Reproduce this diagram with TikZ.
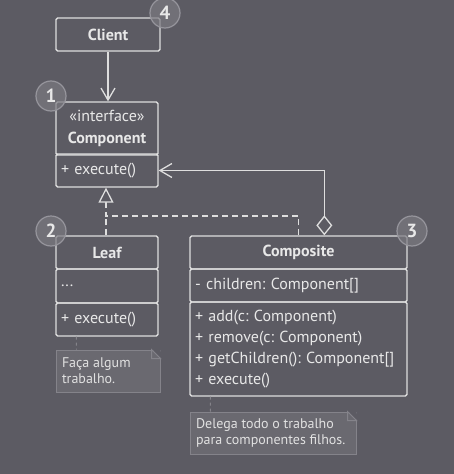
\documentclass[tikz,border=0pt]{standalone}
\usepackage{fontspec}
\setmainfont{PT Sans}
\frenchspacing
\usetikzlibrary{arrows.meta,calc}
\definecolor{bgc}{RGB}{92,91,99}
\definecolor{lnc}{RGB}{222,222,222}
\definecolor{txc}{RGB}{232,232,232}
\definecolor{notefill}{RGB}{106,105,112}
\definecolor{notedraw}{RGB}{132,131,138}
\definecolor{notetxt}{RGB}{225,225,225}
\definecolor{numfill}{RGB}{122,121,128}
\definecolor{numdraw}{RGB}{150,149,156}
\tikzset{
  cls/.style={draw=lnc, line width=1.3pt, rounded corners=1.6pt, text=txc,
              inner sep=0pt, minimum width=102pt, align=center,
              font=\fontsize{16}{20}\selectfont},
  hd/.style={cls, font=\fontsize{16}{20}\selectfont\bfseries},
  prt/.style={cls, align=left, inner xsep=5pt, text width=92pt},
  wide/.style={minimum width=217pt, text width=207pt},
  note/.style={fill=notefill, draw=notedraw, line width=1pt, text=notetxt,
               align=flush left, inner xsep=6pt, inner ysep=0pt,
               font=\fontsize{14}{16}\selectfont},
  num/.style={circle, minimum size=30pt, inner sep=0pt, fill=numfill,
              fill opacity=0.7, text opacity=1, draw=numdraw, line width=1.2pt,
              text=txc, font=\fontsize{19}{19}\selectfont\bfseries},
  assoc/.style={draw=lnc, line width=1.3pt, -{Straight Barb[length=12pt,width=14pt]}},
  real/.style={draw=lnc, line width=1.3pt, dash pattern=on 6pt off 4pt},
  agg/.style={draw=lnc, line width=1.3pt,
              {Diamond[open,length=20pt,width=16pt,fill=bgc]}-{Straight Barb[length=12pt,width=14pt]}},
  noteln/.style={draw=notedraw, line width=1pt, dash pattern=on 3pt off 3pt},
}

\begin{document}
\begin{tikzpicture}[x=1pt,y=-1pt]
  \fill[bgc] (0,0) rectangle (454,474);
  \useasboundingbox (0,0) rectangle (454,474);

  % classes
  \node[hd,minimum width=104pt,minimum height=33pt] (client) at (108,34.5) {Client};
  \node[cls,minimum height=53pt,font=\fontsize{16}{22}\selectfont] (compH) at (107,128.5)
    {«interface»\\\textbf{Component}};
  \node[prt,minimum height=33pt] (compO) at (107,170.5) {+ execute()};

  \node[hd,minimum height=33pt] (leafT) at (107,252.5) {Leaf};
  \node[prt,minimum height=34pt] (leafA) at (107,286) {...};
  \node[prt,minimum height=33pt] (leafO) at (107,319.5) {+ execute()};

  \node[hd,minimum width=217pt,minimum height=33pt] (cmpT) at (298.5,252.5) {Composite};
  \node[prt,wide,minimum height=33pt] (cmpA) at (298.5,285.5) {- children: Component[]};
  \node[prt,wide,minimum height=94pt,font=\fontsize{16}{21}\selectfont] (cmpO) at (298.5,349)
    {+ add(c: Component)\\+ remove(c: Component)\\+ getChildren(): Component[]\\+ execute()};

  % notes
  \node[note,minimum width=104pt,minimum height=42pt,text width=92pt] (leafnote) at (108,371)
    {Faça algum\\trabalho.};
  \node[note,minimum width=166pt,minimum height=42pt,text width=154pt] (cmpnote) at (273,433)
    {Delega todo o trabalho\\para componentes filhos.};
  \foreach \n in {leafnote,cmpnote}{
    \fill[bgc] (\n.north east) -- ($(\n.north east)+(-9,-1)$) -- ($(\n.north east)+(1,9)$) -- cycle;
    \draw[notedraw,line width=1pt] ($(\n.north east)+(-9,0)$) -- ($(\n.north east)+(0,9)$)
      -- ($(\n.north east)+(-9,9)$) -- cycle;
  }
  \draw[noteln] ($(leafO.south west)+(21,0)$) -- ($(leafnote.north west)+(21,0)$);
  \draw[noteln] ($(cmpO.south west)+(21,0)$) -- ($(cmpnote.north west)+(21,0)$);

  % relations
  \draw[assoc] (client.south) -- (client.south |- compH.north);
  \coordinate (join) at (106,216);
  \draw[real] (leafT.north -| join) -- (join);
  \draw[real,-{Triangle[open,length=15pt,width=15pt,fill=bgc]}]
    ($(cmpT.north west)+(109,0)$) |- (join) -- (join |- compO.south);
  \coordinate (aggpt) at ($(cmpT.north west)+(135,0)$);
  \draw[agg] (aggpt) |- (compO.east);

  % numbers
  \node[num] (n1) at (51,96) {1};
  \node[num] (n2) at (51,231) {2};
  \node[num] (n3) at (412,231) {3};
  \node[num] (n4) at (165,13) {4};
\end{tikzpicture}
\end{document}
